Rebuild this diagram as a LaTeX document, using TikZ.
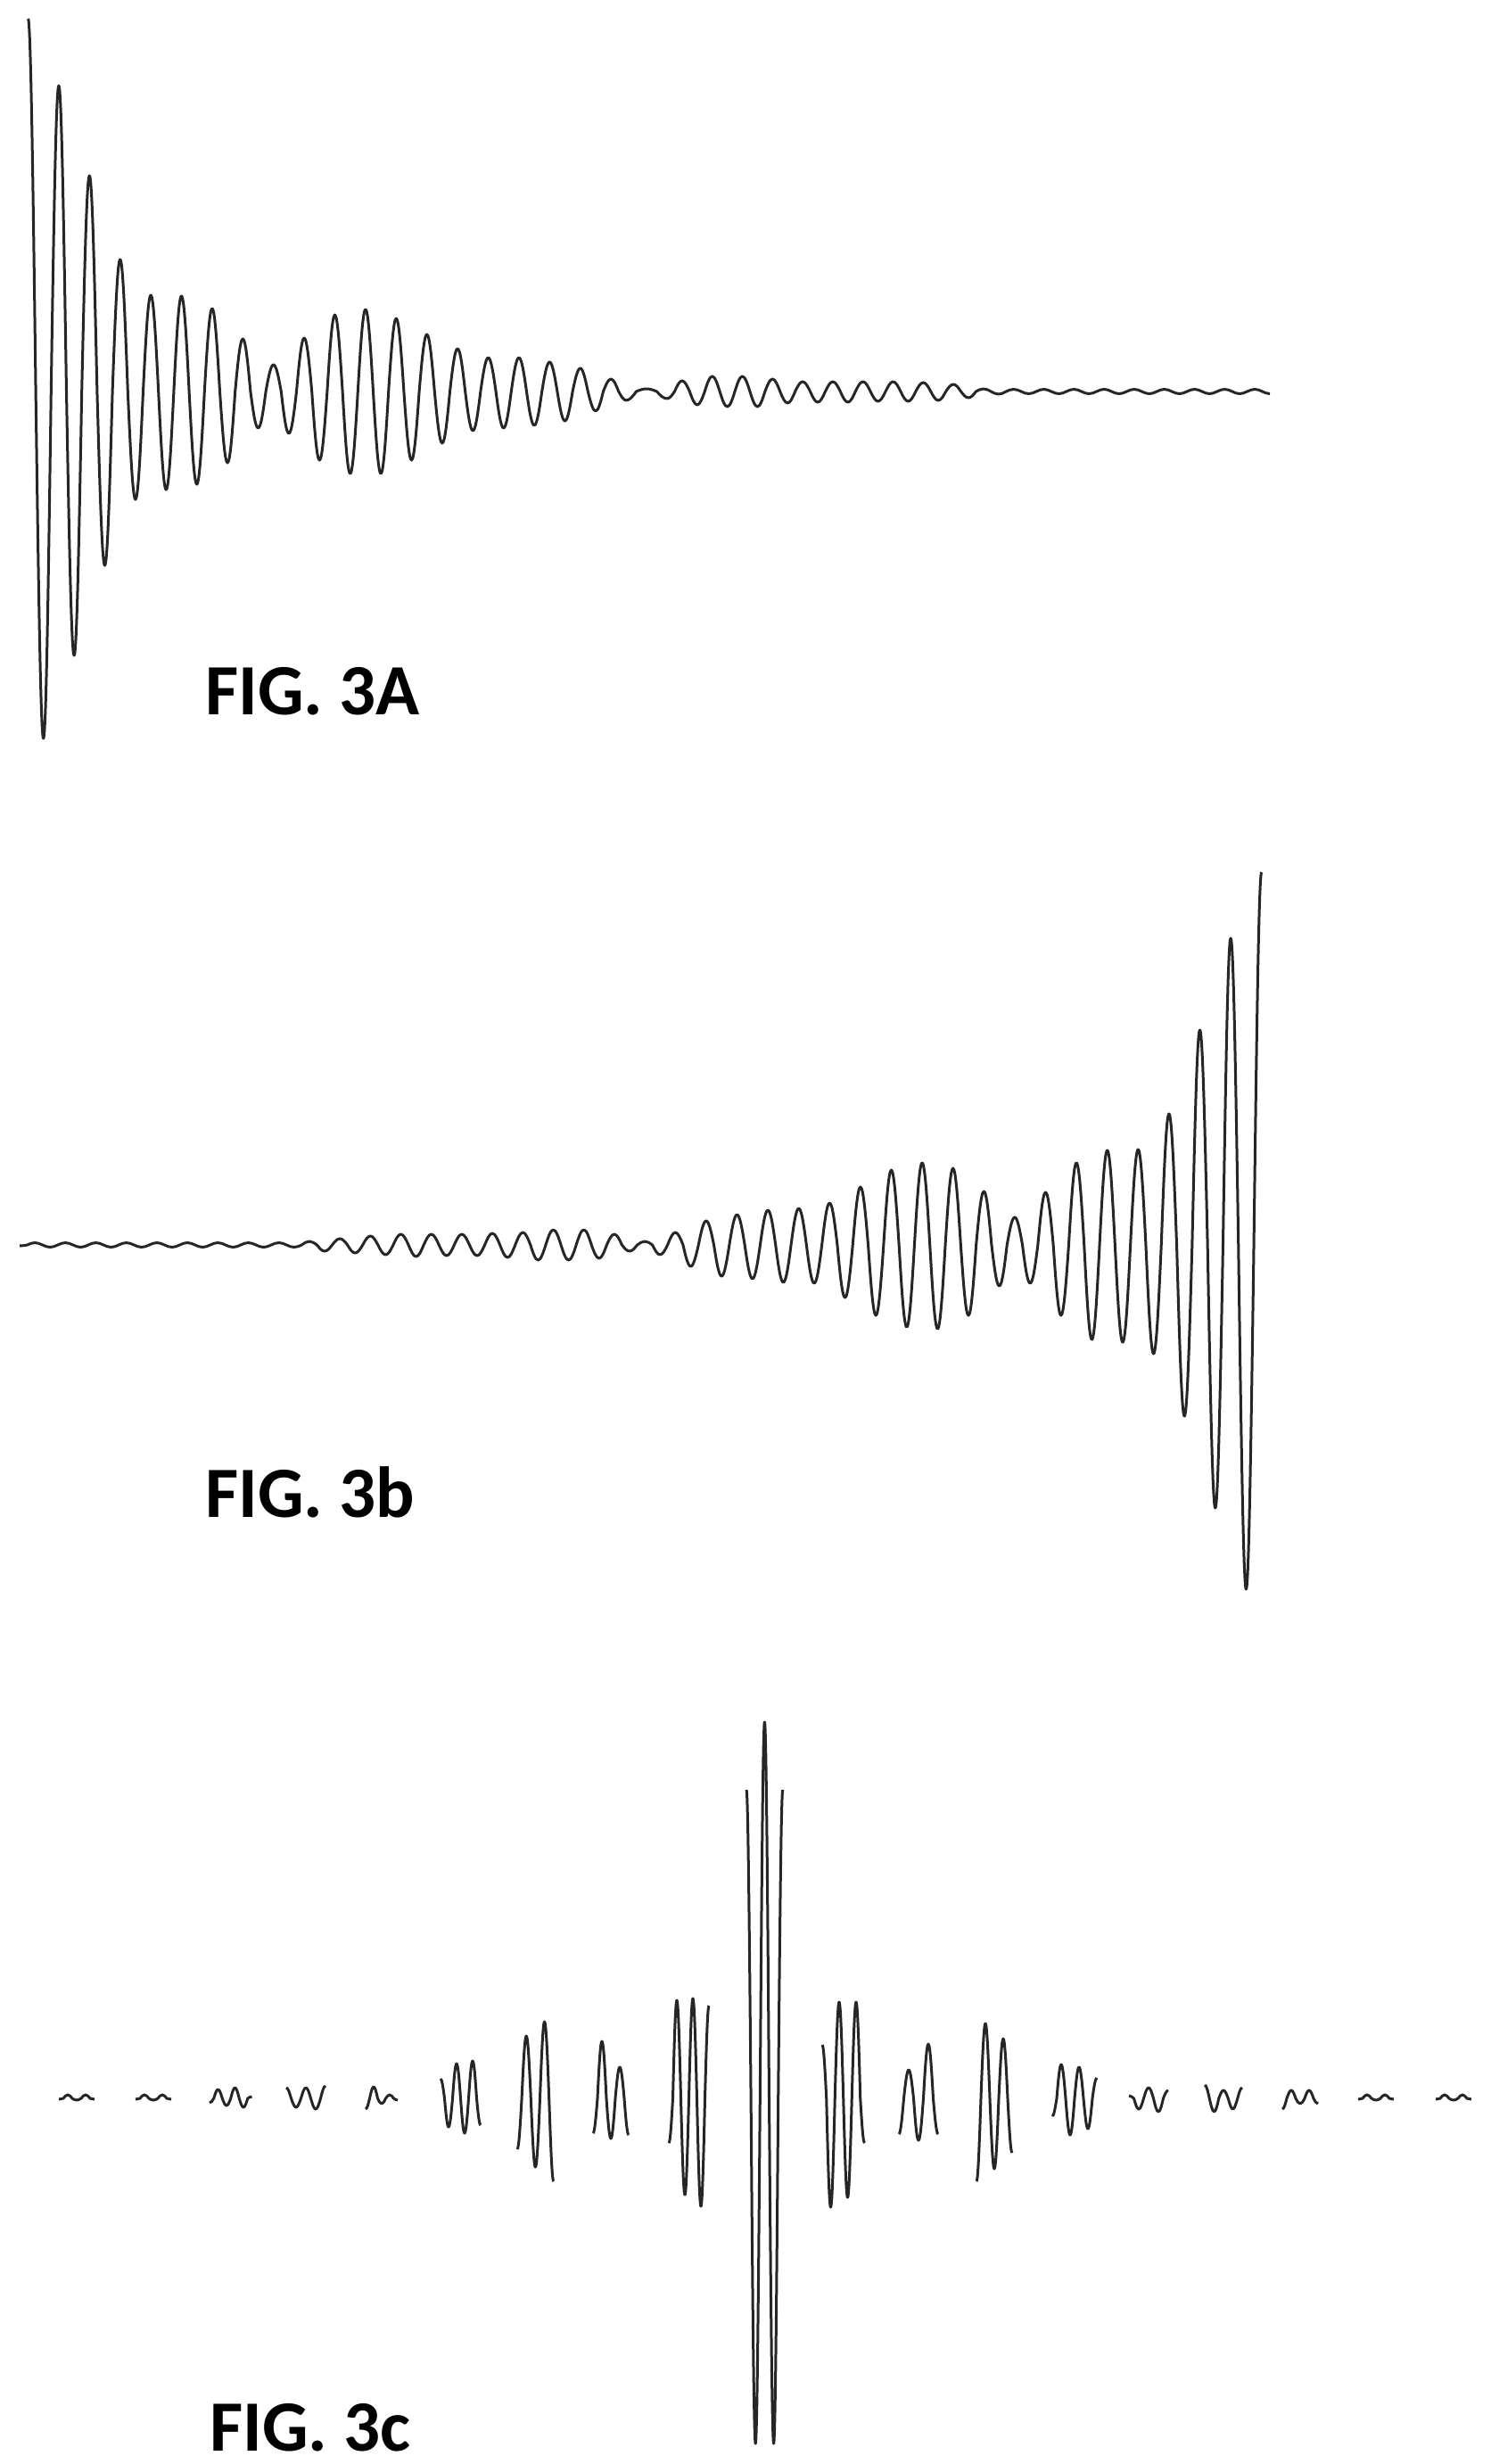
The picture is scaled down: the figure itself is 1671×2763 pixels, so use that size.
\documentclass[tikz,border=0pt]{standalone}
\usepackage{fontspec}
\setmainfont{Carlito}
\tikzset{
  trace/.style = {line width=3pt, color=black!85, line join=round},
  figlabel/.style = {anchor=base west, inner sep=0pt,
    font=\fontsize{81}{90}\selectfont\bfseries}
}
% one oscillation: start x, half period, centre, first sign, first amplitude, amplitudes
\newcommand\wave[6]{%
  \draw[trace] (#1,{#3-(#4)*#5})
    foreach \a [count=\k] in {#6} {
      cos ({#1+(\k-0.5)*#2},#3)
      sin ({#1+\k*#2},{#3-(#4)*cos(180*\k)*\a})
    };}
\begin{document}
\begin{tikzpicture}[x=1pt,y=-1pt]
  \useasboundingbox (0,0) rectangle (1671,2763);
  % FIG. 3A: decaying signal
  \pgfmathsetmacro{\ca}{439}
  \wave{31.5}{17.2}{\ca}{1}{418}{389,343,296,242,195,148,121,108,110,107,104,93,80,59,41,30,47,60,77,86,92,92,92,82,77,64,58,48,44,38,41,38,38,33,33,26,22,14,10}
  \wave{702}{23}{\ca}{-1}{10}{3,8}
  \wave{748}{16.9}{\ca}{-1}{8}{12,15,17,17,17,17,14,13,11,12,11,12,11,11,11,11,10,10,8,7,3,3,2.5,2.5,2.5,2.5,2.5,2.5,2.5,2.5,2.5,2.5,2.5,2.5,2.5,2.5,2.5,2.5,2.5,2.5}
  \node[figlabel] (figA) at (230,801) {FIG. 3A};
  % FIG. 3b: growing signal
  \pgfmathsetmacro{\cb}{1396}
  \wave{22}{17.1}{\cb}{-1}{1}{2.5,2.5,2.5,2.5,2.5,2.5,2.5,2.5,2.5,2.5,2.5,2.5,2.5,2.5,2.5,2.5,2.5,2.5,4,7,7,9,10,11,12,13,12,12,12,12,13,14,14,17,17,17,17,15,12,7,4,11}
  \wave{740}{17.3}{\cb}{-1}{11}{14,24,27,35,34,38,39,42,41,43,47,59,65,79,84,92,92,94,86,79,60,46,31,43,59,79,92,106,106,109,107,122,147,192,241,295,344,386,418}
  \node[figlabel] (figB) at (230,1701) {FIG. 3b};
  % FIG. 3c: bursts
  \pgfmathsetmacro{\cc}{2353}
  \wave{66}{10}{\cc}{-1}{1}{4,2,4,1}
  \wave{152}{10}{\cc}{-1}{1}{4,2,4,1}
  \wave{235}{9.5}{\cc}{-1}{5}{10,8,12,10,2}
  \wave{321}{11}{\cc}{1}{12}{10,12,12,14}
  \wave{410}{9}{\cc}{-1}{12}{13,6,4,2}
  \wave{494}{9}{\cc}{1}{22}{32,39,39,42,30}
  \wave{580}{10.2}{\cc}{-1}{57}{70,77,86,93}
  \wave{665}{10}{\cc}{-1}{39}{64,45,35,41}
  \wave{750}{9}{\cc}{-1}{50}{110,108,112,121,104}
  \wave{837}{10.2}{\cc}{1}{346}{387,422,387,346}
  \wave{922}{9.5}{\cc}{1}{60}{122,108,111,108,50}
  \wave{1008}{11}{\cc}{-1}{40}{32,47,61,40}
  \wave{1095}{10}{\cc}{-1}{93}{84,79,67,61}
  \wave{1180}{10}{\cc}{-1}{20}{38,41,35,34,23}
  \wave{1266}{11}{\cc}{1}{3}{12,12,15,9}
  \wave{1351}{10.5}{\cc}{1}{15}{15,9,12,12}
  \wave{1438}{10}{\cc}{-1}{12}{9,6,9,6}
  \wave{1523}{10}{\cc}{-1}{1}{4,2,4,1}
  \wave{1610}{10}{\cc}{-1}{1}{4,2,4,1}
  \node[figlabel] (figC) at (235,2748) {FIG. 3c};
\end{tikzpicture}
\end{document}
